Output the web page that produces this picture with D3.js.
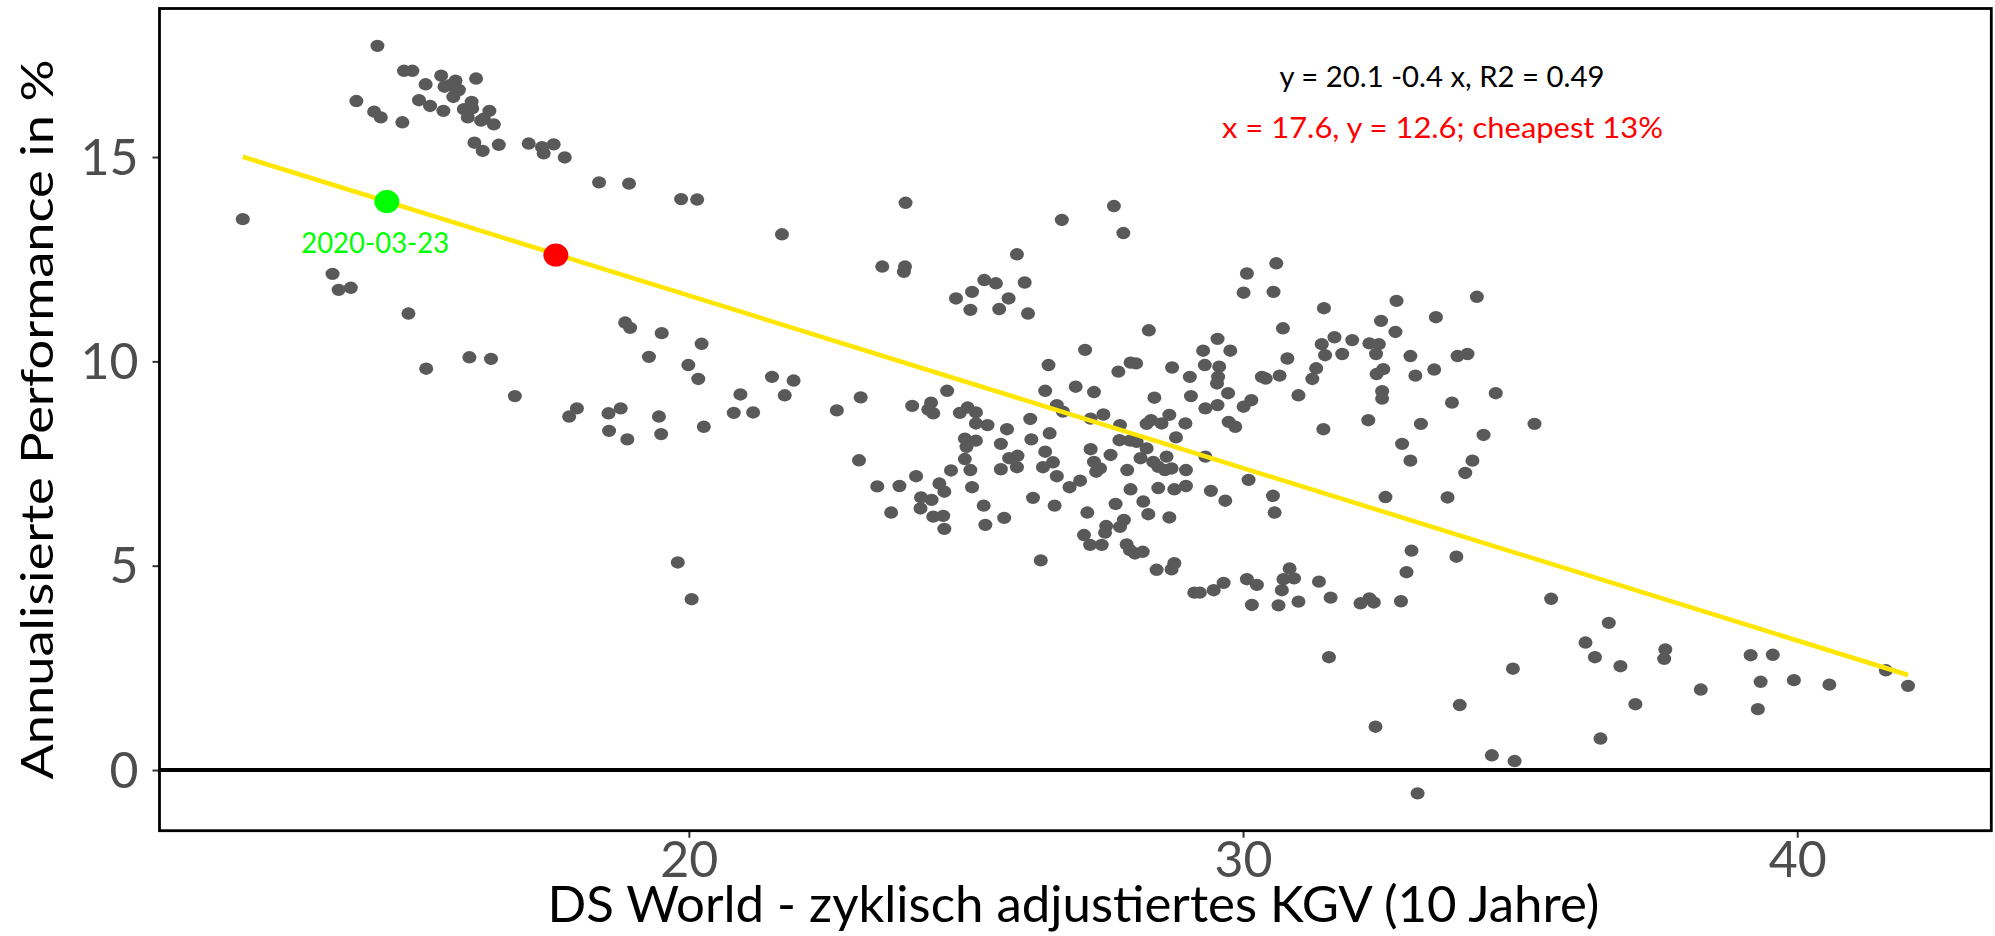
<!DOCTYPE html>
<html><head><meta charset="utf-8">
<script src="https://cdn.jsdelivr.net/npm/d3@7"></script>
<style>html,body{margin:0;padding:0;background:#fff;} svg{display:block;}</style>
</head><body>
<svg id="chart" width="1995" height="936"></svg>
<script>
// Cyclically adjusted P/E (x) and annualised performance in % (y)
const kgv = [
 14.38,14.86,15.01,15.25,15.53,15.79,15.59,15.79,15.75,16.16,14.00,14.32,14.44,14.83,15.13,15.33,15.57,15.94,16.08,16.09,
 16.01,16.40,16.25,16.48,16.13,16.28,16.57,17.11,17.35,17.38,17.56,17.76,18.38,11.95,13.57,13.68,13.90,14.94,15.26,16.04,
 16.43,16.86,17.98,17.84,18.55,15.69,15.85,16.30,18.56,
 18.92,19.86,20.15,21.68,23.91,23.49,23.90,23.88,25.92,25.33,25.54,26.06,24.82,25.11,25.77,25.08,25.60,26.12,18.85,18.94,
 19.51,20.23,19.28,19.99,20.17,21.50,21.89,21.73,20.93,23.10,24.66,26.49,26.43,26.64,18.77,19.46,20.81,21.16,22.67,24.03,
 24.37,24.32,24.41,24.89,25.03,25.18,26.16,
 18.89,19.50,20.27,23.07,25.18,25.39,25.74,26.51,24.98,25.18,25.01,25.63,26.18,26.43,24.98,25.08,24.73,25.78,25.93,25.92,
 25.63,26.39,26.57,26.64,24.10,23.40,23.80,24.52,24.61,24.19,24.38,24.18,23.65,24.41,24.59,24.61,25.11,25.32,25.35,25.69,
 26.21,26.60,26.35,19.80,20.05,
 26.73,27.67,27.84,30.60,30.07,30.01,30.55,31.46,32.77,34.22,33.48,32.49,32.75,30.72,28.30,27.15,29.54,29.28,29.77,29.31,
 29.57,29.55,29.53,29.04,28.72,27.97,28.07,27.75,26.98,27.31,29.06,29.73,28.40,29.32,29.54,30.01,30.15,30.34,30.41,30.66,
 30.80,31.00,31.25,31.32,31.42,31.65,31.48,31.79,31.97,32.28,32.45,32.40,32.53,32.41,32.51,32.51,33.02,33.11,33.45,33.87,
 34.05,33.77,34.56,26.75,27.25,27.48,28.67,
 27.78,28.26,28.34,28.53,28.96,29.74,29.86,31.45,32.26,33.21,34.34,32.87,33.02,34.14,34.01,32.57,33.69,33.04,33.85,32.95,
 27.25,27.61,27.77,27.96,28.08,28.26,28.15,28.38,28.47,28.62,28.59,28.71,28.79,28.97,29.32,27.31,27.35,27.42,27.06,26.87,
 27.91,27.97,28.47,28.76,28.97,27.70,28.20,28.29,28.67,27.19,27.53,27.51,27.78,27.85,27.13,27.24,27.45,27.90,28.05,28.19,
 27.96,28.44,28.76,28.71,29.42,29.68,30.10,30.54,30.57,29.12,29.22,29.47,29.65,30.07,30.25,30.16,30.64,30.84,30.73,30.92,
 30.70,31.00,31.37,31.58,32.12,32.28,32.36,32.85,31.55,32.39,33.91,34.49,33.15,
 35.26,34.87,34.90,35.56,36.60,36.18,36.35,36.81,37.62,37.60,37.08,36.45,38.26,39.16,39.56,39.34,39.94,40.58,39.29,41.60,
 42.00
];
const perf = [
 17.72,17.11,17.11,16.78,16.99,16.87,16.72,16.68,16.47,16.92,16.37,16.11,15.97,15.85,16.39,16.25,16.13,16.17,16.35,16.19,
 15.97,16.13,15.89,15.80,15.35,15.15,15.30,15.33,15.24,15.09,15.31,14.99,14.38,13.48,12.14,11.75,11.80,11.17,9.82,10.10,
 10.06,9.15,8.85,8.65,8.73,16.76,16.64,15.94,8.30,
 14.35,13.97,13.96,13.11,13.88,12.32,12.32,12.19,12.62,11.99,11.91,11.93,11.54,11.70,11.54,11.26,11.28,11.17,10.95,10.82,
 10.69,10.43,10.11,9.91,9.57,9.62,9.53,9.17,9.19,9.12,9.28,9.91,9.28,8.93,8.85,8.65,8.74,8.75,8.80,8.91,
 8.99,8.82,8.73,8.74,8.87,8.75,8.59,
 8.09,8.22,8.40,7.58,8.48,8.44,8.34,8.24,8.11,8.06,7.91,7.98,8.09,7.79,7.61,7.34,7.33,7.63,7.69,7.41,
 7.36,7.41,7.53,7.19,7.19,6.94,6.95,7.01,6.81,6.67,6.61,6.40,6.30,6.20,6.22,5.90,6.92,6.47,6.00,6.17,
 6.66,6.47,5.13,5.08,4.18,
 13.46,13.80,13.14,12.40,12.15,11.68,11.70,11.30,11.48,11.58,11.08,10.99,10.72,10.81,10.76,10.28,10.55,10.26,10.26,9.91,
 9.87,9.62,9.46,9.62,9.85,9.97,9.95,9.75,9.38,9.25,9.15,9.22,9.11,8.85,8.93,8.89,9.05,9.62,9.58,9.65,
 10.07,9.17,9.57,9.83,10.42,10.59,10.15,10.18,10.52,10.44,10.42,10.18,9.81,9.69,9.27,9.09,10.13,9.65,9.80,10.13,
 10.18,8.99,9.22,8.77,8.60,8.70,8.69,
 8.44,8.47,8.56,8.48,8.48,8.52,8.40,8.34,8.56,8.47,8.20,7.98,7.57,7.57,7.27,6.68,6.67,5.37,5.22,4.84,
 7.85,7.71,8.07,8.06,8.03,7.87,7.63,7.54,7.42,7.67,7.34,7.38,8.14,7.34,7.67,7.54,7.30,7.38,7.08,6.92,
 7.34,6.87,6.90,6.87,6.95,6.51,6.57,6.26,6.18,6.30,5.97,5.81,5.95,6.12,5.75,5.51,5.51,5.52,5.30,5.34,
 5.38,4.90,5.06,4.91,6.83,6.59,7.10,6.71,6.30,4.34,4.34,4.40,4.58,4.67,4.53,4.04,4.03,4.93,4.67,4.69,
 4.40,4.12,4.61,4.22,4.08,4.20,4.10,4.13,2.76,1.06,1.59,0.36,-0.57,
 8.47,2.48,0.22,4.19,3.60,3.12,2.76,2.54,2.95,2.72,1.61,0.77,1.97,2.81,2.82,2.16,2.20,2.09,1.49,2.44,
 2.06
];
const xTicks = [20, 30, 40];
const yTicks = [0, 5, 10, 15];
const fitIntercept = 20.05;
const fitSlope = -0.422;
const currentPoint = [14.55, 13.91];
const currentLabel = "2020-03-23";
const currentLabelPos = [14.34, 12.65];
const cheapPoint = [17.6, 12.6];
const eqLabel = "y = 20.1 -0.4 x, R2 = 0.49";
const eqLabelPos = [33.59, 16.71];
const cheapLabel = "x = 17.6, y = 12.6; cheapest 13%";
const cheapLabelPos = [33.6, 15.46];
const xTitle = "DS World - zyklisch adjustiertes KGV (10 Jahre)";
const yTitle = "Annualisierte Performance in %";

const W = 1995, H = 936;
const m = {left: 159.5, right: 3.7, top: 8.5, bottom: 105.3};
const svg = d3.select("#chart");
const FONT = "Lato, 'Open Sans', sans-serif";

const points = kgv.map((v, i) => ({x: v, y: perf[i]}));
const xExt = d3.extent(kgv), yExt = d3.extent(perf);
const xPad = (xExt[1] - xExt[0]) * 0.05, yPad = (yExt[1] - yExt[0]) * 0.05;
const x = d3.scaleLinear().domain([xExt[0] - xPad, xExt[1] + xPad]).range([m.left, W - m.right]);
const y = d3.scaleLinear().domain([yExt[0] - yPad, yExt[1] + yPad]).range([H - m.bottom, m.top]);

// axes
const gx = svg.append("g").attr("transform", `translate(0,${H - m.bottom})`)
  .call(d3.axisBottom(x).tickValues(xTicks).tickSize(7).tickFormat(d3.format("d")));
gx.select(".domain").remove();
gx.selectAll(".tick line").attr("stroke", "#333").attr("stroke-width", 2);
gx.selectAll(".tick text").attr("y", 46.5).attr("dy", null)
  .attr("font-family", FONT).attr("font-size", 50).attr("fill", "#4d4d4d");

const gy = svg.append("g").attr("transform", `translate(${m.left},0)`)
  .call(d3.axisLeft(y).tickValues(yTicks).tickSize(7).tickFormat(d3.format("d")));
gy.select(".domain").remove();
gy.selectAll(".tick line").attr("stroke", "#333").attr("stroke-width", 2);
gy.selectAll(".tick text").attr("x", -21).attr("dy", 17)
  .attr("font-family", FONT).attr("font-size", 50).attr("fill", "#4d4d4d");

// points
svg.append("g").selectAll("ellipse").data(points).join("ellipse")
  .attr("cx", d => x(d.x)).attr("cy", d => y(d.y))
  .attr("rx", 7).attr("ry", 6.2).attr("fill", "#595959");

// zero line
svg.append("line")
  .attr("x1", m.left).attr("x2", W - m.right)
  .attr("y1", y(0)).attr("y2", y(0))
  .attr("stroke", "#000").attr("stroke-width", 4);

// regression line
const line = d3.line().x(d => x(d)).y(d => y(fitIntercept + fitSlope * d));
svg.append("path").datum(xExt).attr("d", line)
  .attr("fill", "none").attr("stroke", "#FFE600").attr("stroke-width", 4.6);

// highlighted points
svg.append("ellipse").attr("cx", x(currentPoint[0])).attr("cy", y(currentPoint[1]))
  .attr("rx", 12.5).attr("ry", 11.5).attr("fill", "#00FF00");
svg.append("ellipse").attr("cx", x(cheapPoint[0])).attr("cy", y(cheapPoint[1]))
  .attr("rx", 12.5).attr("ry", 11.5).attr("fill", "#FF0000");

// annotations
svg.append("text").attr("x", x(currentLabelPos[0])).attr("y", y(currentLabelPos[1]))
  .attr("text-anchor", "middle").attr("font-family", FONT).attr("font-size", 28)
  .attr("fill", "#00FF00").attr("textLength", 148).attr("lengthAdjust", "spacingAndGlyphs")
  .text(currentLabel);
svg.append("text").attr("x", x(eqLabelPos[0])).attr("y", y(eqLabelPos[1]))
  .attr("text-anchor", "middle").attr("font-family", FONT).attr("font-size", 28)
  .attr("fill", "#000").attr("textLength", 325).attr("lengthAdjust", "spacingAndGlyphs")
  .text(eqLabel);
svg.append("text").attr("x", x(cheapLabelPos[0])).attr("y", y(cheapLabelPos[1]))
  .attr("text-anchor", "middle").attr("font-family", FONT).attr("font-size", 28)
  .attr("fill", "#FF0000").attr("textLength", 441).attr("lengthAdjust", "spacingAndGlyphs")
  .text(cheapLabel);

// panel border
svg.append("rect").attr("x", m.left).attr("y", m.top)
  .attr("width", W - m.right - m.left).attr("height", H - m.bottom - m.top)
  .attr("fill", "none").attr("stroke", "#000").attr("stroke-width", 2.8);

// axis titles
svg.append("text").attr("x", (m.left + W - m.right) / 2 - 2).attr("y", 922)
  .attr("text-anchor", "middle").attr("font-family", FONT).attr("font-size", 50)
  .attr("fill", "#000").attr("textLength", 1052).attr("lengthAdjust", "spacingAndGlyphs")
  .text(xTitle);
svg.append("text")
  .attr("transform", `translate(53,${(m.top + H - m.bottom) / 2}) rotate(-90)`)
  .attr("text-anchor", "middle").attr("font-family", FONT).attr("font-size", 45)
  .attr("fill", "#000").attr("textLength", 720).attr("lengthAdjust", "spacingAndGlyphs")
  .text(yTitle);
</script>
</body></html>
